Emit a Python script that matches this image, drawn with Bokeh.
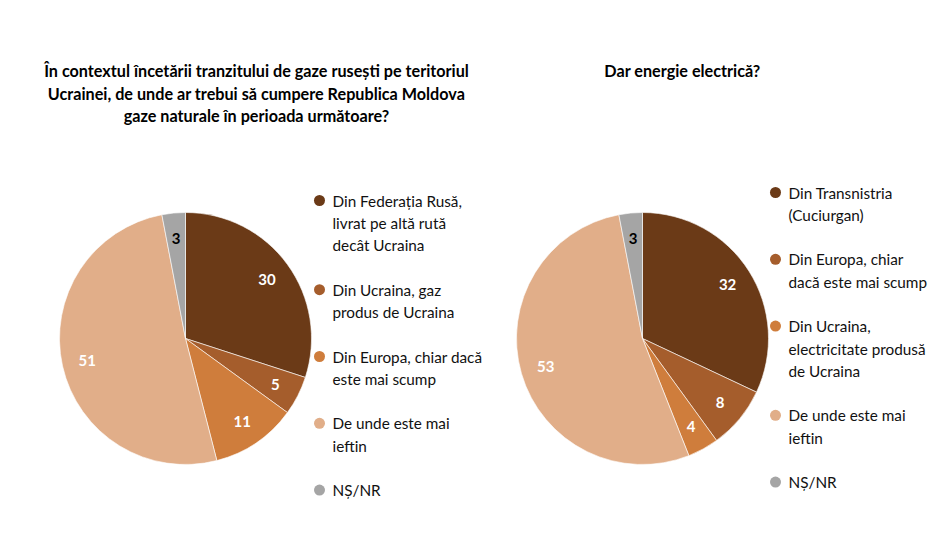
import math

from bokeh.core.properties import value
from bokeh.embed import file_html
from bokeh.models import Range1d
from bokeh.plotting import figure
from bokeh.resources import INLINE

# data
gas_labels = [
    "Din Federația Rusă,\nlivrat pe altă rută\ndecât Ucraina",
    "Din Ucraina, gaz\nprodus de Ucraina",
    "Din Europa, chiar dacă\neste mai scump",
    "De unde este mai\nieftin",
    "NȘ/NR",
]
gas_values = [30, 5, 11, 51, 3]

power_labels = [
    "Din Transnistria\n(Cuciurgan)",
    "Din Europa, chiar\ndacă este mai scump",
    "Din Ucraina,\nelectricitate produsă\nde Ucraina",
    "De unde este mai\nieftin",
    "NȘ/NR",
]
power_values = [32, 8, 4, 53, 3]

gas_title = [
    "În contextul încetării tranzitului de gaze rusești pe teritoriul",
    "Ucrainei, de unde ar trebui să cumpere Republica Moldova",
    "gaze naturale în perioada următoare?",
]
power_title = ["Dar energie electrică?"]

colors = ["#6B3A17", "#A55D2C", "#CF7D3C", "#E1AE89", "#A5A5A5"]
label_colors = ["white", "white", "white", "white", "black"]

FONT = "Lato"
W, H = 929, 539


def fy(y):
    # pixel row from the top -> data y (bottom up)
    return H - y


p = figure(
    width=W,
    height=H,
    x_range=Range1d(0, W),
    y_range=Range1d(0, H),
    output_backend="svg",
    toolbar_location=None,
    x_axis_location=None,
    y_axis_location=None,
    min_border=0,
)
p.grid.visible = False
p.outline_line_color = None


def draw_pie(cx, cy, r, values, labels, title, title_x, legend_x, legend_y0):
    total = sum(values)
    start = 0
    for v, c, lc in zip(values, colors, label_colors):
        a0 = math.pi / 2 - start / total * 2 * math.pi
        a1 = math.pi / 2 - (start + v) / total * 2 * math.pi
        p.wedge(
            x=cx, y=fy(cy), radius=r,
            start_angle=a0, end_angle=a1, direction="clock",
            fill_color=c, line_color="white", line_width=0.6,
        )
        mid = math.pi / 2 - (start + v / 2) / total * 2 * math.pi
        p.text(
            x=[cx + 0.8 * r * math.cos(mid)], y=[fy(cy) + 0.8 * r * math.sin(mid)],
            text=[str(v)], text_align="center", text_baseline="middle",
            text_font=value(FONT), text_font_style="bold",
            text_font_size="15px", text_color=lc,
        )
        start += v

    for i, line in enumerate(title):
        p.text(
            x=[title_x], y=[fy(70 + i * 22.5)], text=[line],
            text_align="center", text_baseline="middle",
            text_font=value(FONT), text_font_style="bold",
            text_font_size="16.2px", text_color="black",
        )

    y = legend_y0
    for lab, c in zip(labels, colors):
        lines = lab.split("\n")
        p.scatter(x=[legend_x], y=[fy(y)], size=11, marker="circle",
                  fill_color=c, line_color=None)
        for j, line in enumerate(lines):
            p.text(
                x=[legend_x + 13], y=[fy(y + j * 22.4)], text=[line],
                text_align="left", text_baseline="middle",
                text_font=value(FONT), text_font_size="15.3px",
                text_color="#111111",
            )
        y += len(lines) * 22.4 + 22


draw_pie(185, 338, 126, gas_values, gas_labels, gas_title, 256, 319, 200)
draw_pie(642, 338, 126, power_values, power_labels, power_title, 682, 775, 192)

open("out.html", "w").write(file_html(p, INLINE))
